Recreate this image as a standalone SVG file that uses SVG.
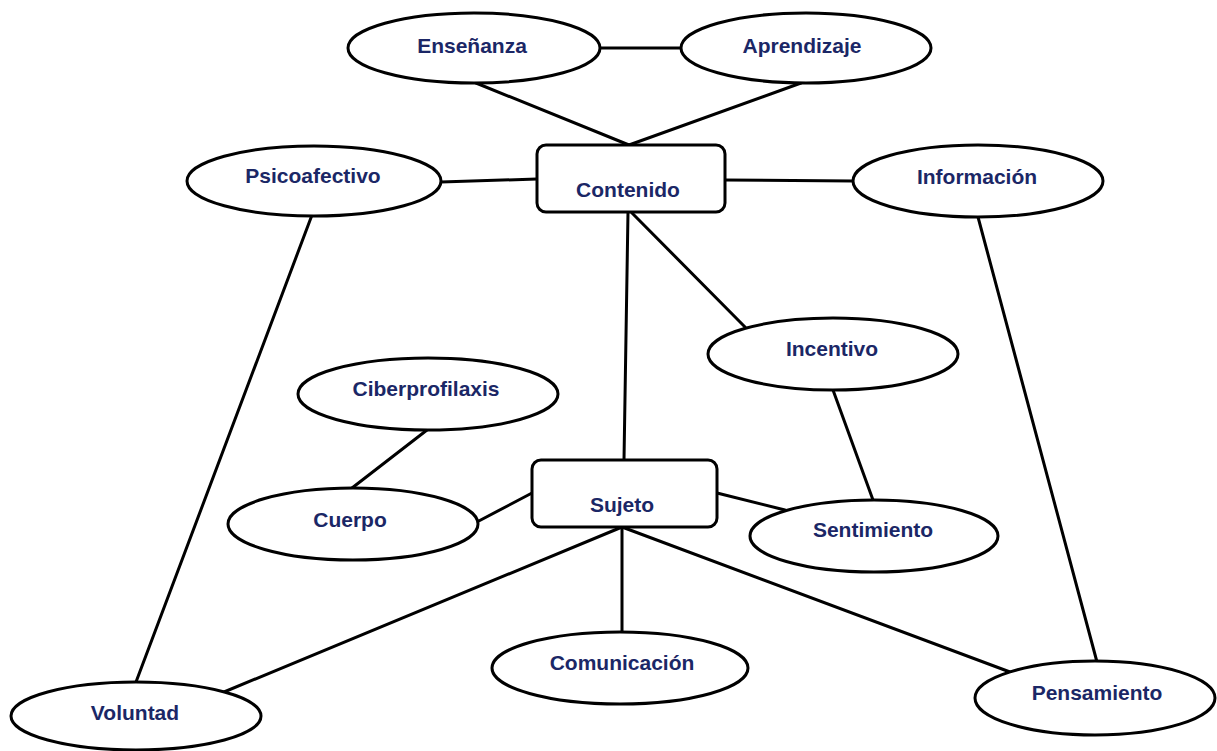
<svg xmlns="http://www.w3.org/2000/svg" width="1217" height="751" viewBox="0 0 1217 751">
<style>
.n ellipse,.n rect{fill:#fff;stroke:#000;stroke-width:3}
.n text{font-family:"Liberation Sans",Arial,sans-serif;font-weight:bold;font-size:21px;fill:#1b2766;text-anchor:middle}
#edges line{stroke:#000;stroke-width:3;stroke-linecap:round}
</style>
<rect width="1217" height="751" fill="#fff"/>
<g id="edges">
<line x1="598" y1="48" x2="682" y2="48"/>
<line x1="476" y1="83" x2="629" y2="145"/>
<line x1="801" y1="83" x2="629" y2="145"/>
<line x1="441" y1="182" x2="537" y2="179"/>
<line x1="725" y1="180" x2="853" y2="181"/>
<line x1="312" y1="215" x2="136" y2="682"/>
<line x1="978" y1="217" x2="1097" y2="662"/>
<line x1="628" y1="212" x2="624" y2="460"/>
<line x1="632" y1="213" x2="745" y2="327"/>
<line x1="833" y1="390" x2="873" y2="500"/>
<line x1="427" y1="430" x2="352" y2="488"/>
<line x1="475" y1="523" x2="532" y2="493"/>
<line x1="717" y1="493" x2="785" y2="510"/>
<line x1="622" y1="527" x2="224" y2="692"/>
<line x1="622" y1="527" x2="622" y2="632"/>
<line x1="622" y1="527" x2="1010" y2="672"/>
</g>
<g id="ensenanza" class="n"><ellipse cx="474" cy="48" rx="126" ry="35"/><text x="472" y="53">Enseñanza</text></g>
<g id="aprendizaje" class="n"><ellipse cx="806" cy="48" rx="125" ry="35"/><text x="802" y="53">Aprendizaje</text></g>
<g id="psicoafectivo" class="n"><ellipse cx="314" cy="181" rx="127" ry="35"/><text x="313" y="183">Psicoafectivo</text></g>
<g id="contenido" class="n"><rect x="537" y="145" width="188" height="67" rx="9"/><text x="628" y="197">Contenido</text></g>
<g id="informacion" class="n"><ellipse cx="978" cy="181" rx="125" ry="36"/><text x="977" y="184">Información</text></g>
<g id="incentivo" class="n"><ellipse cx="833" cy="354" rx="125" ry="36"/><text x="832" y="356">Incentivo</text></g>
<g id="ciberprofilaxis" class="n"><ellipse cx="428" cy="394" rx="130" ry="36"/><text x="426" y="396">Ciberprofilaxis</text></g>
<g id="sujeto" class="n"><rect x="532" y="460" width="185" height="67" rx="9"/><text x="622" y="512">Sujeto</text></g>
<g id="cuerpo" class="n"><ellipse cx="353" cy="524" rx="125" ry="36"/><text x="350" y="527">Cuerpo</text></g>
<g id="sentimiento" class="n"><ellipse cx="874" cy="536" rx="124" ry="36"/><text x="873" y="537">Sentimiento</text></g>
<g id="comunicacion" class="n"><ellipse cx="620" cy="668" rx="128" ry="36"/><text x="622" y="670">Comunicación</text></g>
<g id="pensamiento" class="n"><ellipse cx="1095" cy="698" rx="120" ry="37"/><text x="1097" y="700">Pensamiento</text></g>
<g id="voluntad" class="n"><ellipse cx="136" cy="716" rx="125" ry="34"/><text x="135" y="720">Voluntad</text></g>
</svg>
